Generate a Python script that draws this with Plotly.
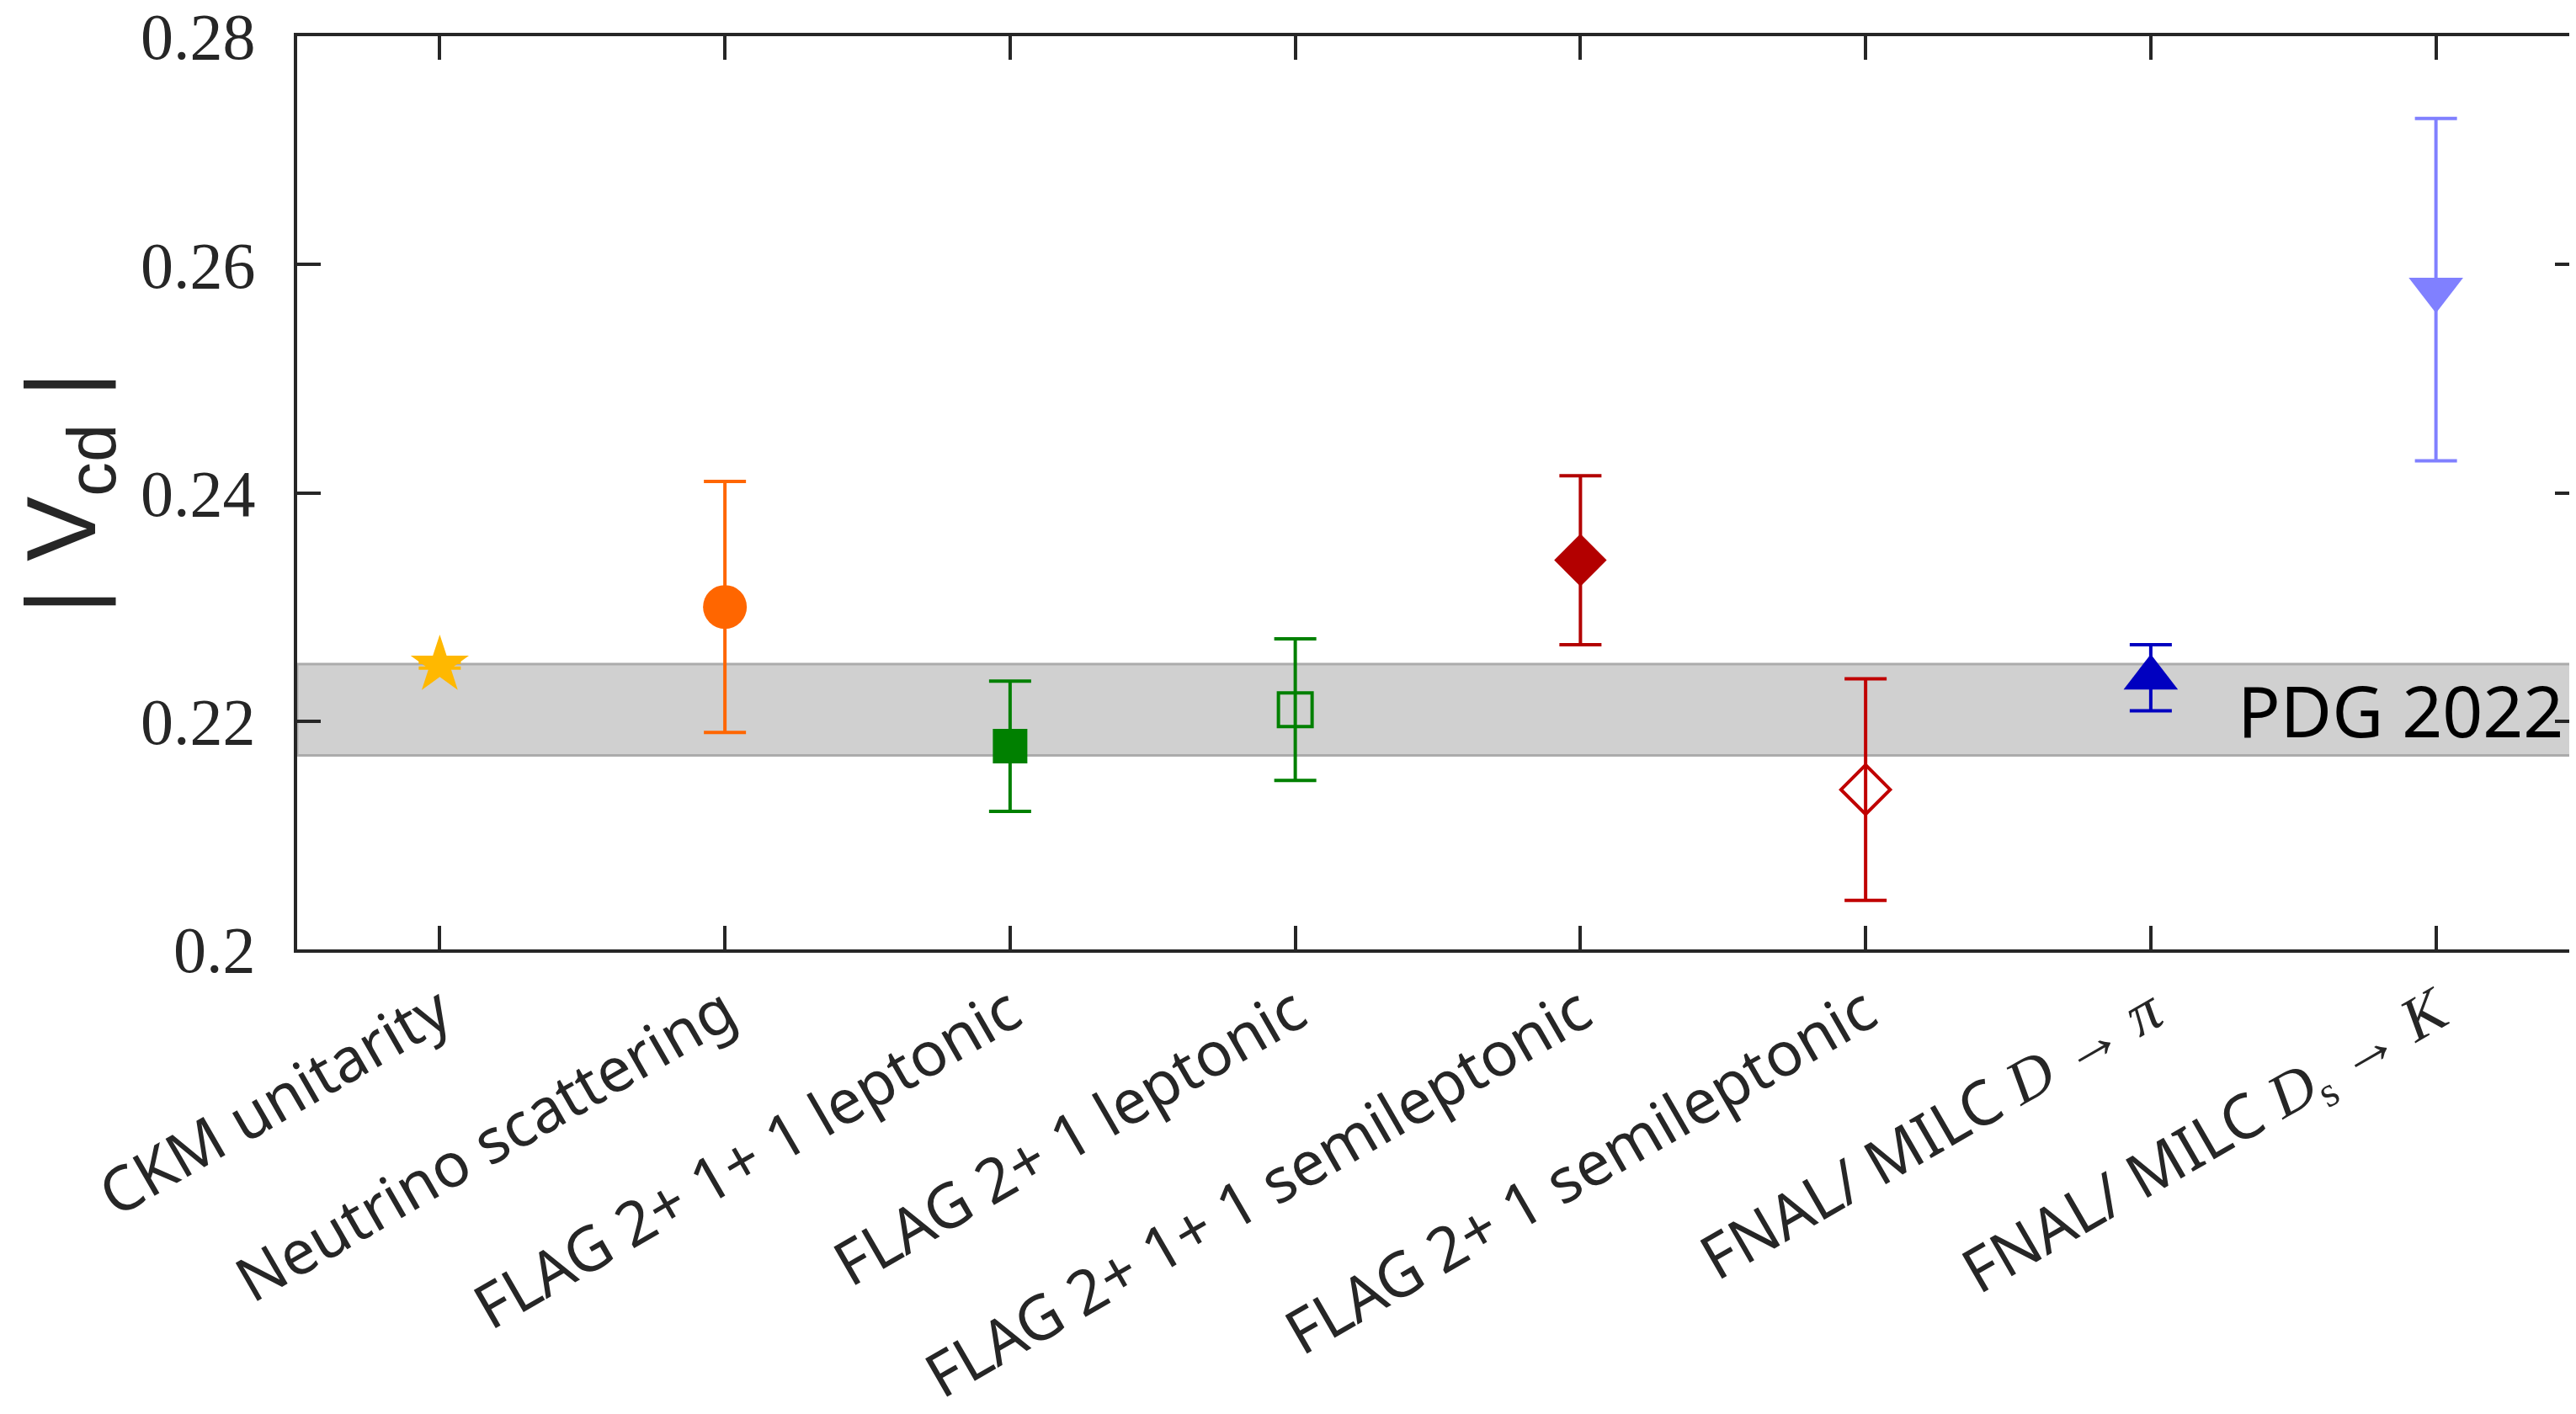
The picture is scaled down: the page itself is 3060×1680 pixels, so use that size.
import plotly.graph_objects as go

labels = [
    "CKM unitarity",
    "Neutrino scattering",
    "FLAG 2+ 1+ 1 leptonic",
    "FLAG 2+ 1 leptonic",
    "FLAG 2+ 1+ 1 semileptonic",
    "FLAG 2+ 1 semileptonic",
    "FNAL/ MILC <span style=\"font-family:'Liberation Serif'\"><i>D</i> → <i>π</i></span>",
    "FNAL/ MILC <span style=\"font-family:'Liberation Serif'\"><i>D</i><sub>s</sub> → <i>K</i></span>",
]
vcd = [0.2249, 0.2300, 0.2178, 0.2210, 0.2341, 0.2140, 0.2238, 0.2578]
vcd_err = [0.00025, 0.0110, 0.0057, 0.0062, 0.0074, 0.0097, 0.0029, 0.0150]

symbols = ["star", "circle", "square", "square-open", "diamond", "diamond-open",
           "triangle-up", "triangle-down"]
colors = ["#FFB800", "#FF6600", "#008000", "#008000", "#B30000", "#C00000", "#0000C0", "#8080FF"]
sizes = [52, 52, 41, 40, 48, 45, 56, 56]

pdg_low = 0.217
pdg_high = 0.225

y_ticks = [0.20, 0.22, 0.24, 0.26, 0.28]
y_ticktext = ["0.2", "0.22", "0.24", "0.26", "0.28"]

axis_col = "#262626"

fig = go.Figure()

# PDG 2022 band
fig.add_shape(type="rect", xref="paper", x0=0, x1=1, yref="y", y0=pdg_low, y1=pdg_high,
              fillcolor="#D0D0D0", line=dict(color="#ABABAB", width=3), layer="below")
fig.add_annotation(text="PDG 2022", xref="paper", x=0.994, xanchor="right",
                   yref="y", y=(pdg_low + pdg_high) / 2, yanchor="middle", showarrow=False,
                   font=dict(family="Noto Sans", size=84, color="black"))

for i in range(len(labels)):
    open_sym = symbols[i].endswith("open")
    fig.add_trace(go.Scatter(
        x=[i], y=[vcd[i]], mode="markers",
        marker=dict(symbol=symbols[i], size=sizes[i], color=colors[i],
                    line=dict(color=colors[i], width=4 if open_sym else 0)),
        error_y=dict(type="data", array=[vcd_err[i]], color=colors[i], thickness=4, width=25),
        showlegend=False,
    ))

fig.update_xaxes(
    range=[-0.5, len(labels) - 0.5], tickvals=list(range(len(labels))), ticktext=labels,
    tickangle=-30, ticks="inside", ticklen=28, tickwidth=4, tickcolor=axis_col,
    showline=True, linecolor=axis_col, linewidth=4, mirror="ticks", showgrid=False,
    zeroline=False, automargin=False,
    tickfont=dict(family="Noto Sans", size=73, color=axis_col),
)
fig.update_yaxes(
    range=[0.2, 0.28], tickvals=y_ticks, ticktext=y_ticktext,
    ticks="inside", ticklen=28, tickwidth=4, tickcolor=axis_col,
    showline=True, linecolor=axis_col, linewidth=4, mirror="ticks", showgrid=False,
    zeroline=False, ticklabelstandoff=30, ticklabeloverflow="allow", automargin=False,
    tickfont=dict(family="Liberation Serif", size=78, color=axis_col),
    title=dict(text="| V<sub>cd</sub> |", standoff=30,
               font=dict(family="Liberation Sans", size=116, color=axis_col)),
)

fig.update_layout(
    width=3060, height=1680,
    margin=dict(l=345, r=5, t=35, b=560),
    plot_bgcolor="white", paper_bgcolor="white",
)

fig.write_html("out.html")
